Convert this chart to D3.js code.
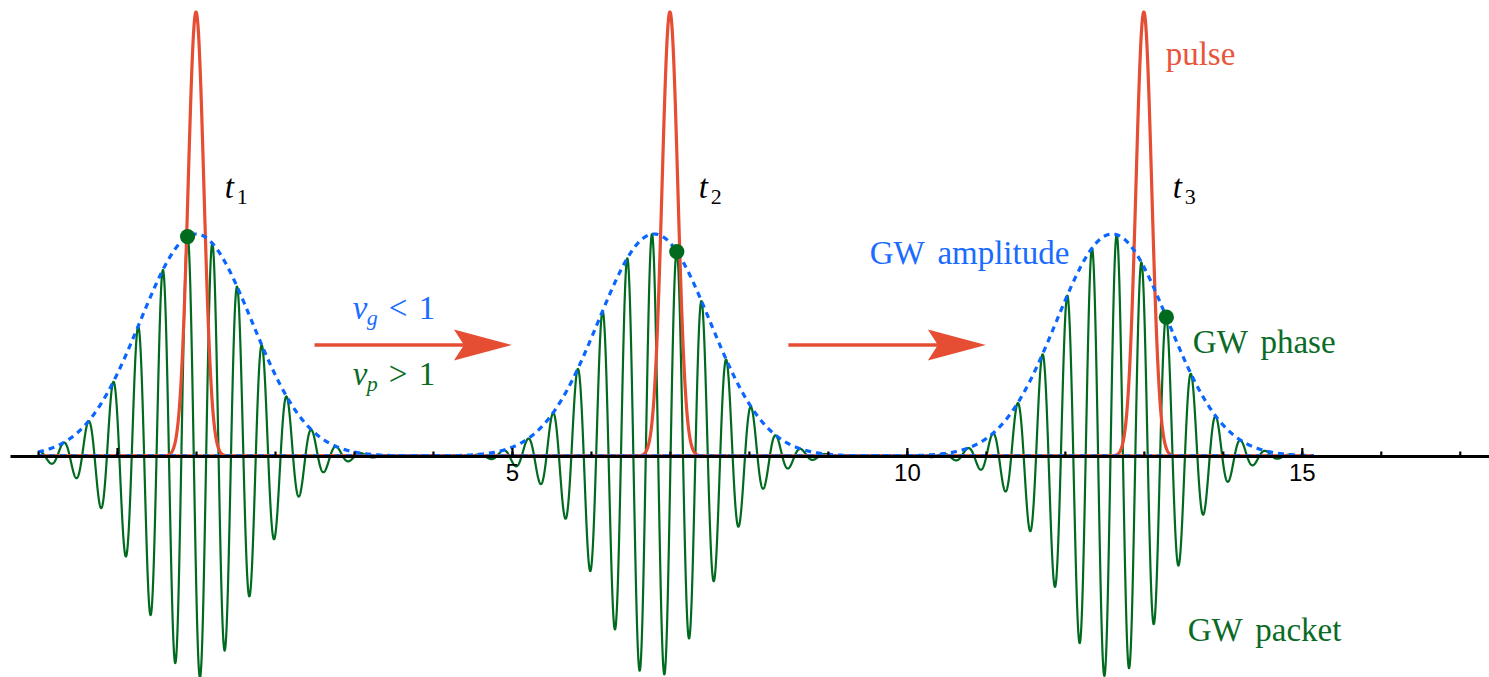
<!DOCTYPE html>
<html>
<head>
<meta charset="utf-8">
<script src="https://cdn.jsdelivr.net/npm/d3@7"></script>
<style>
  html, body { margin: 0; padding: 0; background: #ffffff; }
  svg { display: block; }
  .serif { font-family: "Liberation Serif", "DejaVu Serif", "Noto Serif", "Times New Roman", Times, serif; }
</style>
</head>
<body>
<svg id="chart" width="1489" height="677"></svg>
<script>
// Snapshots of a light pulse overtaking a gravitational-wave packet.
const snapshotSubscripts = ["1", "2", "3"];

// Pulse: narrow Gaussian travelling at speed 1
const pulseCenters = [1, 7, 13];
const pulsePeak = 2;
const pulseSigma = 0.1;

// Wave packet envelope: travels at the group velocity (< 1)
const envelopeCenters = [1, 6.8, 12.6];
const envelopePeak = 1;
const envelopeSigma = 0.707;

// Crest that carries the phase marker: travels at the phase velocity (> 1)
const phaseCrests = [0.893, 7.087, 13.285];
const waveNumber = 20;

// Axis ticks
const axisExtent = [-1.355, 17.37];
const curveExtent = [-1, 15.15];
const majorTicks = [0, 5, 10, 15];
const majorTickLabels = ["", "5", "10", "15"];
const minorTicks = [-1, 0, 1, 2, 3, 4, 5, 6, 7, 8, 9, 10, 11, 12, 13, 14, 15, 16, 17];

// Motion arrows between snapshots: [start, end] along x, drawn at height arrowLevel
const arrows = [[2.5, 5], [8.5, 11]];
const arrowLevel = 0.5;

const RED = "#e64e33";
const GREEN = "#006b1f";
const BLUE = "#0a66ff";

const svg = d3.select("#chart");
const W = 1489, H = 677;

const x = d3.scaleLinear().domain(axisExtent).range([10, W]);
const y = d3.scaleLinear().domain([0, 1]).range([456, 234]);

const gauss = (v, c, s) => Math.exp(-((v - c) * (v - c)) / (2 * s * s));
const samples = d3.range(curveExtent[0], curveExtent[1] + 1e-9, 0.002);

const line = d3.line().x(d => x(d[0])).y(d => y(d[1]));

const curves = svg.append("g").attr("fill", "none").attr("stroke-linejoin", "round");

// Green oscillating packets
pulseCenters.forEach((_, i) => {
  const pts = samples.map(v => [v,
    envelopePeak * gauss(v, envelopeCenters[i], envelopeSigma) *
    Math.cos(waveNumber * (v - phaseCrests[i]))]);
  curves.append("path")
    .attr("d", line(pts))
    .attr("stroke", GREEN)
    .attr("stroke-width", 2.2);
});

// Red pulses
pulseCenters.forEach(c => {
  const pts = samples.map(v => [v, pulsePeak * gauss(v, c, pulseSigma)]);
  curves.append("path")
    .attr("d", line(pts))
    .attr("stroke", RED)
    .attr("stroke-width", 3.2);
});

// Blue dashed envelopes
envelopeCenters.forEach(c => {
  const pts = samples.map(v => [v, envelopePeak * gauss(v, c, envelopeSigma)]);
  curves.append("path")
    .attr("d", line(pts))
    .attr("stroke", BLUE)
    .attr("stroke-width", 3.2)
    .attr("stroke-dasharray", "6,5");
});

// Phase markers
svg.append("g").selectAll("circle")
  .data(phaseCrests.map((p, i) => [p, envelopePeak * gauss(p, envelopeCenters[i], envelopeSigma)]))
  .join("circle")
  .attr("cx", d => x(d[0]))
  .attr("cy", d => y(d[1]))
  .attr("r", 7.6)
  .attr("fill", GREEN);

// Arrows
const arrowG = svg.append("g");
arrows.forEach(([a, b]) => {
  const tip = x(b), yy = y(arrowLevel);
  arrowG.append("line")
    .attr("x1", x(a)).attr("x2", tip - 48)
    .attr("y1", yy).attr("y2", yy)
    .attr("stroke", RED).attr("stroke-width", 3.4);
  arrowG.append("path")
    .attr("d", `M${tip},${yy} L${tip - 58},${yy - 15.5} L${tip - 48},${yy} L${tip - 58},${yy + 15.5} Z`)
    .attr("fill", RED);
});

// Axis (drawn in front of the curves)
const minorAxis = d3.axisBottom(x).tickValues(minorTicks).tickSizeInner(-4.5).tickSizeOuter(0).tickFormat("");
const majorAxis = d3.axisBottom(x).tickValues(majorTicks).tickSizeInner(-8).tickSizeOuter(0)
  .tickPadding(8).tickFormat((d, i) => majorTickLabels[i]);

const gMinor = svg.append("g").attr("transform", `translate(0,${y(0)})`).call(minorAxis);
gMinor.select(".domain").remove();
gMinor.selectAll(".tick line").attr("stroke", "#000").attr("stroke-width", 2.2);

const gMajor = svg.append("g").attr("transform", `translate(0,${y(0)})`).call(majorAxis);
gMajor.select(".domain").attr("stroke", "#000").attr("stroke-width", 3);
gMajor.selectAll(".tick line").attr("stroke", "#000").attr("stroke-width", 2.2);
gMajor.selectAll(".tick text")
  .attr("fill", "#000")
  .attr("font-family", "Liberation Sans, Arial, sans-serif")
  .attr("font-size", 24);

// Text annotations
const annotations = [
  { text: "pulse", x: 13.277, y: 1.761, color: "#e8553a" },
  { text: "GW amplitude", x: 9.53, y: 0.865, color: "#1a6bff" },
  { text: "GW phase", x: 13.62, y: 0.464, color: "#0b6b26" },
  { text: "GW packet", x: 13.555, y: -0.833, color: "#0b6b26" }
];
svg.append("g").selectAll("text")
  .data(annotations)
  .join("text")
  .attr("class", "serif")
  .attr("x", d => x(d.x))
  .attr("y", d => y(d.y))
  .attr("fill", d => d.color)
  .attr("font-size", 33)
  .style("word-spacing", "5px")
  .text(d => d.text);

// Math labels: italic symbol with subscript, optional relation
function mathLabel(px, py, sym, sub, rel, color) {
  const t = svg.append("text")
    .attr("class", "serif")
    .attr("x", px).attr("y", py)
    .attr("fill", color)
    .attr("font-size", 33);
  t.append("tspan").attr("x", px).attr("font-style", "italic").text(sym);
  const subSpan = t.append("tspan")
    .attr("x", px + (sym === "t" ? 12 : 14))
    .attr("dy", 6)
    .attr("font-size", 22)
    .text(sub);
  if (sym !== "t") subSpan.attr("font-style", "italic");
  if (rel) {
    t.append("tspan").attr("x", px + 36).attr("dy", -6).text(rel[0]);
    t.append("tspan").attr("x", px + 66).text(rel[1]);
  }
}

pulseCenters.forEach((c, i) => {
  mathLabel(x(c + 0.365), y(1.162), "t", snapshotSubscripts[i], null, "#000");
});
mathLabel(x(2.985), y(0.617), "v", "g", ["<", "1"], "#1a6bff");
mathLabel(x(2.985), y(0.32), "v", "p", [">", "1"], "#0b6b26");
</script>
</body>
</html>
